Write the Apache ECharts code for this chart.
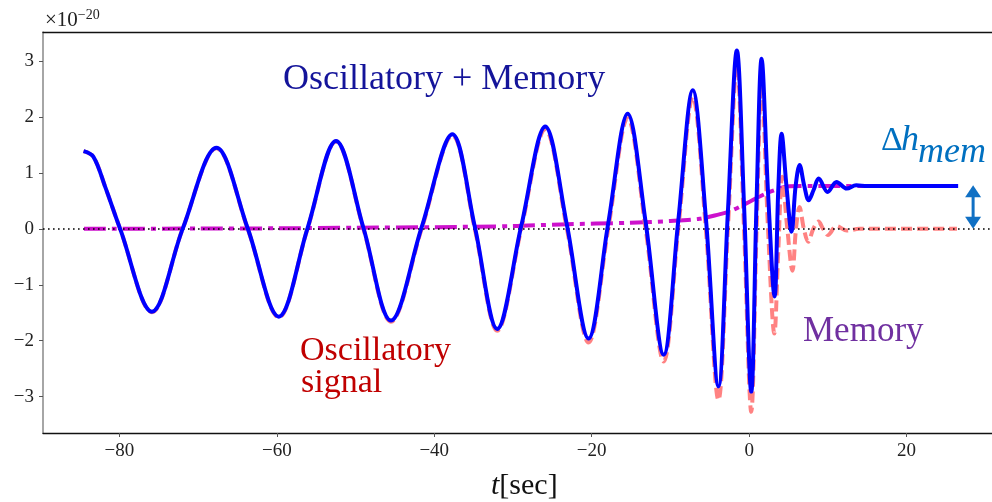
<!DOCTYPE html>
<html>
<head>
<meta charset="utf-8">
<script src="https://cdn.jsdelivr.net/npm/echarts@6.0.0/dist/echarts.min.js"></script>
<style>
  html, body {margin: 0; padding: 0; background: #fff;}
  #main {width: 992px; height: 502px;}
</style>
</head>
<body>
<div id="main"></div>
<script>
// tick labels
const xTicks = [-80, -60, -40, -20, 0, 20];
const yTicks = [-3, -2, -1, 0, 1, 2, 3];

// oscillatory + memory (blue): extrema and crossings, units of 1e-20
const blueT = [-84.55, -83.3, -81.8, -79.9, -75.86, -71.96, -67.67, -63.7, -59.75, -56.1, -52.48, -49.0, -45.5, -41.6,
    -37.7, -34.85, -32.0, -28.95, -25.9, -23.15, -20.4, -17.9, -15.43, -13.15, -10.85, -9.0, -7.16, -5.5, -3.9, -2.7,
    -1.56, -0.65, 0.27, 0.95, 1.58, 2.4, 3.23, 3.7, 4.12, 4.75, 5.39, 5.9, 6.41, 7.0, 7.56, 8.2, 8.83, 9.97, 11.1, 12.4,
    13.6, 15.0, 26.55];
const blueH = [1.39, 1.29, 0.75, 0, -1.48, 0, 1.45, 0.01, -1.57, 0.01, 1.57, 0.02, -1.64, 0.03,
    1.69, 0.04, -1.79, 0.05, 1.83, 0.07, -1.96, 0.1, 2.06, 0.12, -2.25, 0.15, 2.48, 0.2, -2.82, 0.3,
    3.19, 0.43, -2.91, 0.53, 3.04, 0.65, -1.21, 0.7, 1.70, 0.75, -0.05, 0.76, 1.14, 0.77, 0.51, 0.7, 0.90, 0.66, 0.84, 0.72,
    0.78, 0.765, 0.765];

// oscillatory signal only (red dashed)
const redT = [-84.55, -83.3, -81.8, -79.9, -75.86, -71.96, -67.67, -63.7, -59.75, -56.1, -52.48, -49.0, -45.5, -41.6,
    -37.7, -34.85, -32.0, -28.95, -25.9, -23.15, -20.4, -17.9, -15.43, -13.15, -10.85, -9.0, -7.16, -5.5, -3.9, -2.7,
    -1.56, -0.65, 0.27, 0.95, 1.58, 2.4, 3.2, 3.7, 4.2, 4.85, 5.5, 5.95, 6.4, 6.95, 7.5, 8.15, 8.8, 9.4, 10.0, 11.1, 12.4,
    14.0, 26.4];
const redH = [1.39, 1.29, 0.75, 0, -1.49, 0, 1.44, 0, -1.58, 0, 1.56, 0, -1.66, 0,
    1.67, 0, -1.82, 0, 1.78, 0, -2.03, 0, 1.98, 0, -2.37, 0, 2.36, 0, -3.06, 0,
    2.92, 0, -3.27, 0, 2.6, 0, -1.87, -0.4, 0.93, 0, -0.75, 0, 0.39, 0, -0.23, 0, 0.13, 0, -0.11, 0.05, -0.03,
    0, 0];

// memory (magenta dash-dot)
const memT = [-84.5, -70, -60, -50, -40, -30, -24, -15, -10, -6.3, -3.8, -2.5, 0, 1.2, 2.6, 4.0, 5.1, 8.0, 26.5];
const memH = [0, 0.005, 0.01, 0.02, 0.03, 0.05, 0.08, 0.11, 0.14, 0.18, 0.26, 0.31, 0.48, 0.57, 0.66, 0.73, 0.76, 0.765, 0.765];

// double arrow for delta h_mem
const arrowX = 28.45;
const arrowFrom = 0;
const arrowTo = 0.78;

const zip = (t, h) => t.map((v, i) => [v, h[i]]);
const serif = '"Liberation Serif", "DejaVu Serif", serif';
const minus = v => String(v).replace('-', '\u2212');

const chart = echarts.init(document.getElementById('main'), null, {renderer: 'canvas'});

chart.setOption({
    animation: false,
    backgroundColor: '#fff',
    grid: {left: 43, right: 0, top: 32, bottom: 69, containLabel: false},
    xAxis: [
        {
            type: 'value', min: -89.7, max: 30.85, position: 'bottom',
            axisLine: {show: true, onZero: false, lineStyle: {color: '#111', width: 1.3}},
            axisTick: {show: true, customValues: xTicks, length: 4, lineStyle: {color: '#555'}},
            axisLabel: {customValues: xTicks, formatter: minus, fontFamily: serif, fontSize: 19, color: '#222', margin: 9},
            splitLine: {show: false}
        },
        {
            type: 'value', min: -89.7, max: 30.85, position: 'top',
            axisLine: {show: true, onZero: false, lineStyle: {color: '#111', width: 1.3}},
            axisTick: {show: false}, axisLabel: {show: false}, splitLine: {show: false}
        }
    ],
    yAxis: {
        type: 'value', min: -3.65, max: 3.52,
        axisLine: {show: true, onZero: false, lineStyle: {color: '#888', width: 1.5}},
        axisTick: {show: true, customValues: yTicks, length: 4, lineStyle: {color: '#555'}},
        axisLabel: {customValues: yTicks, formatter: minus, fontFamily: serif, fontSize: 19, color: '#222', margin: 9},
        splitLine: {show: false}
    },
    series: [
        {
            name: 'memory', type: 'line', z: 2, smooth: 0.3, symbol: 'none',
            data: zip(memT, memH),
            lineStyle: {color: '#cc11cc', width: 4, type: [22, 6, 5, 6]}
        },
        {
            name: 'oscillatory', type: 'line', z: 3, smooth: 0.35, symbol: 'none',
            data: zip(redT, redH),
            lineStyle: {color: '#ff7b7b', width: 4, type: [11, 5], opacity: 0.95}
        },
        {
            name: 'zero', type: 'line', z: 4, data: [], symbol: 'none',
            markLine: {
                silent: true, symbol: 'none', label: {show: false},
                lineStyle: {color: '#000', width: 1.6, type: [1.6, 3.4]},
                data: [{yAxis: 0}]
            }
        },
        {
            name: 'total', type: 'line', z: 5, smooth: 0.35, symbol: 'none',
            data: zip(blueT, blueH),
            lineStyle: {color: '#0000ff', width: 4}
        }
    ]
});

const a0 = chart.convertToPixel({xAxisIndex: 0, yAxisIndex: 0}, [arrowX, arrowFrom]);
const a1 = chart.convertToPixel({xAxisIndex: 0, yAxisIndex: 0}, [arrowX, arrowTo]);
const arrowColor = '#1070c4';
const headH = 12, headW = 8;

chart.setOption({
    graphic: [
        {
            type: 'text', left: 45, top: 8,
            style: {
                text: '{a|\u00d710}{b|\u221220}',
                rich: {
                    a: {fontFamily: serif, fontSize: 21, fill: '#222', verticalAlign: 'bottom'},
                    b: {fontFamily: serif, fontSize: 14, fill: '#222', verticalAlign: 'top', padding: [0, 0, 9, 0]}
                }
            }
        },
        {
            type: 'text', x: 283, y: 62,
            style: {text: 'Oscillatory + Memory', fontFamily: serif, fontSize: 36, fill: '#14149a'}
        },
        {
            type: 'text', x: 300, y: 334,
            style: {text: 'Oscillatory', fontFamily: serif, fontSize: 34, fill: '#c00000'}
        },
        {
            type: 'text', x: 301, y: 366,
            style: {text: 'signal', fontFamily: serif, fontSize: 34, fill: '#c00000'}
        },
        {
            type: 'text', x: 803, y: 314,
            style: {text: 'Memory', fontFamily: serif, fontSize: 35, fill: '#7030a0'}
        },
        {
            type: 'text', x: 881, y: 124,
            style: {text: '\u0394', fontFamily: serif, fontSize: 34, fill: '#0070c0'}
        },
        {
            type: 'text', x: 901, y: 123,
            style: {text: 'h', fontFamily: serif, fontSize: 36, fontStyle: 'italic', fill: '#0070c0'}
        },
        {
            type: 'text', x: 918, y: 135,
            style: {text: 'mem', fontFamily: serif, fontSize: 36, fontStyle: 'italic', fill: '#0070c0'}
        },
        {
            type: 'text', x: 491, y: 471,
            style: {
                text: '{i|t}{r|[sec]}',
                rich: {
                    i: {fontFamily: serif, fontSize: 30, fontStyle: 'italic', fill: '#111'},
                    r: {fontFamily: serif, fontSize: 30, fill: '#111'}
                }
            }
        },
        {
            type: 'line', z: 10,
            shape: {x1: a0[0], y1: a0[1] - headH + 1, x2: a1[0], y2: a1[1] + headH - 1},
            style: {stroke: arrowColor, lineWidth: 3}
        },
        {
            type: 'polygon', z: 10,
            shape: {points: [[a1[0], a1[1]], [a1[0] - headW, a1[1] + headH], [a1[0] + headW, a1[1] + headH]]},
            style: {fill: arrowColor}
        },
        {
            type: 'polygon', z: 10,
            shape: {points: [[a0[0], a0[1]], [a0[0] - headW, a0[1] - headH], [a0[0] + headW, a0[1] - headH]]},
            style: {fill: arrowColor}
        }
    ]
});
</script>
</body>
</html>
